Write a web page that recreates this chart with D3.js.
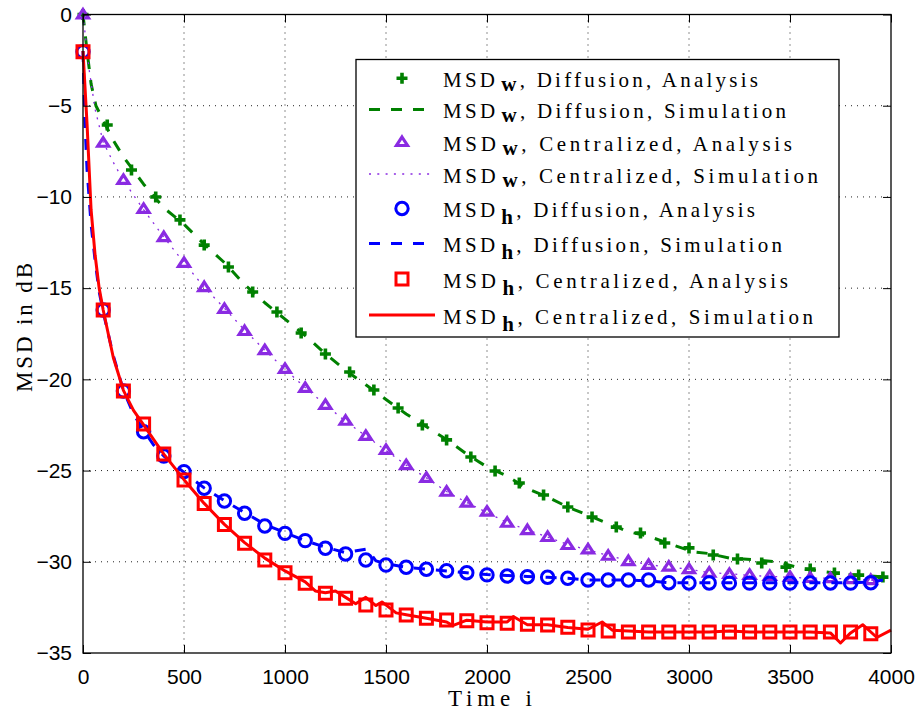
<!DOCTYPE html>
<html>
<head>
<meta charset="utf-8">
<title>MSD curves</title>
<script src="https://d3js.org/d3.v7.min.js"></script>
<style>
  body { margin: 0; background: #fff; }
  svg { display: block; }
</style>
</head>
<body>
<svg width="921" height="715" id="mainsvg"></svg>
<script>
// ---- data (time index, MSD in dB) ----
const xTicks = [0, 500, 1000, 1500, 2000, 2500, 3000, 3500, 4000];
const yTicks = [0, -5, -10, -15, -20, -25, -30, -35];

// MSD_w diffusion, analysis (+ markers every 120)
const wDiffAnaI = [0, 120, 240, 360, 480, 600, 720, 840, 960, 1080, 1200, 1320, 1440, 1560, 1680, 1800, 1920, 2040, 2160, 2280, 2400, 2520, 2640, 2760, 2880, 3000, 3120, 3240, 3360, 3480, 3600, 3720, 3840, 3960];
const wDiffAnaV = [0, -6.06, -8.52, -10.0, -11.26, -12.64, -13.84, -15.21, -16.31, -17.46, -18.61, -19.6, -20.58, -21.57, -22.5, -23.32, -24.26, -25.02, -25.68, -26.34, -27.0, -27.55, -28.1, -28.42, -28.97, -29.24, -29.63, -29.85, -30.07, -30.29, -30.4, -30.62, -30.73, -30.84];

// MSD_w diffusion, simulation (green dashed)
const wDiffSimI = [0, 20, 40, 64, 100, 150, 200, 300, 400, 500, 600, 700, 800, 900, 1000, 1100, 1200, 1300, 1400, 1500, 1600, 1700, 1800, 1900, 2000, 2100, 2200, 2300, 2400, 2500, 2600, 2700, 2800, 2900, 3020, 3100, 3200, 3337, 3435, 3550, 3663, 3762, 3860, 3960];
const wDiffSimV = [0, -2.0, -3.8, -5.0, -5.8, -6.9, -7.8, -9.3, -10.6, -11.5, -12.6, -13.6, -14.8, -15.8, -16.7, -17.6, -18.6, -19.5, -20.3, -21.1, -21.9, -22.6, -23.3, -24.1, -24.8, -25.3, -26.0, -26.45, -27.0, -27.45, -27.9, -28.35, -28.6, -29.0, -29.45, -29.55, -29.8, -29.9, -30.0, -30.35, -30.54, -30.67, -30.75, -30.82];

// MSD_w centralized, analysis (triangles every 100)
const wCentAnaI = d3.range(0, 4000, 100);
const wCentAnaV = [0, -7.03, -9.07, -10.66, -12.2, -13.62, -14.94, -16.14, -17.35, -18.4, -19.43, -20.47, -21.4, -22.27, -23.1, -23.87, -24.7, -25.4, -26.16, -26.76, -27.25, -27.86, -28.26, -28.64, -29.08, -29.32, -29.67, -29.96, -30.17, -30.27, -30.4, -30.6, -30.67, -30.72, -30.78, -30.83, -30.88, -30.9, -30.95, -31.0];

// MSD_w centralized, simulation (purple dotted)
const wCentSimI = [0, 30, 60, 100, 150, 200, 300, 400, 500, 600, 700, 800, 900, 1000, 1100, 1200, 1300, 1400, 1500, 1600, 1700, 1800, 1900, 2000, 2100, 2200, 2300, 2400, 2500, 2600, 2700, 2800, 2900, 3000, 3100, 3200, 3300, 3400, 3500, 3600, 3700, 3800, 3900, 3980];
const wCentSimV = [0, -3.0, -5.2, -7.0, -8.1, -9.1, -10.7, -12.2, -13.6, -14.95, -16.1, -17.3, -18.4, -19.45, -20.45, -21.4, -22.3, -23.1, -23.9, -24.7, -25.4, -26.15, -26.75, -27.3, -27.85, -28.25, -28.65, -29.05, -29.35, -29.65, -29.95, -30.15, -30.3, -30.4, -30.6, -30.65, -30.75, -30.8, -30.85, -30.9, -30.9, -30.95, -31.0, -31.05];

// MSD_h diffusion, analysis (circles every 100)
const hDiffAnaI = d3.range(0, 4000, 100);
const hDiffAnaV = [-2.04, -16.2, -20.64, -22.87, -24.2, -25.06, -25.97, -26.67, -27.34, -28.04, -28.44, -28.84, -29.26, -29.57, -29.9, -30.18, -30.3, -30.41, -30.49, -30.6, -30.72, -30.78, -30.82, -30.85, -30.9, -31.0, -31.0, -31.0, -31.0, -31.15, -31.16, -31.16, -31.17, -31.17, -31.17, -31.17, -31.16, -31.16, -31.17, -31.15];

// MSD_h diffusion, simulation (blue dashed)
const hDiffSimI = [0, 10, 20, 40, 60, 80, 100, 150, 200, 250, 300, 350, 400, 500, 600, 700, 800, 900, 1000, 1100, 1200, 1300, 1406, 1450, 1500, 1600, 1700, 1800, 1900, 2000, 2100, 2200, 2300, 2400, 2500, 2600, 2700, 2800, 2900, 3000, 3100, 3200, 3300, 3400, 3500, 3600, 3700, 3800, 3900, 3960];
const hDiffSimV = [-2.0, -6.0, -8.5, -11.5, -13.5, -15.2, -16.3, -18.7, -20.6, -21.9, -22.8, -23.6, -24.2, -25.1, -25.95, -26.65, -27.3, -27.95, -28.4, -28.85, -29.2, -29.5, -29.3, -29.95, -30.1, -30.3, -30.4, -30.5, -30.6, -30.7, -30.75, -30.8, -30.85, -30.9, -31.0, -31.0, -31.0, -31.05, -31.15, -31.15, -31.15, -31.15, -31.15, -31.15, -31.15, -31.15, -31.15, -31.15, -31.1, -31.0];

// MSD_h centralized, analysis (squares every 100)
const hCentAnaI = d3.range(0, 4000, 100);
const hCentAnaV = [-2.04, -16.2, -20.64, -22.45, -24.09, -25.52, -26.8, -27.95, -28.99, -29.9, -30.6, -31.18, -31.73, -32.0, -32.37, -32.64, -32.92, -33.1, -33.19, -33.23, -33.34, -33.37, -33.43, -33.47, -33.59, -33.74, -33.8, -33.85, -33.85, -33.85, -33.85, -33.85, -33.85, -33.85, -33.85, -33.85, -33.85, -33.85, -33.85, -33.95];

// MSD_h centralized, simulation (red solid)
const hCentSimI = [0, 20, 40, 60, 80, 100, 150, 200, 250, 300, 350, 400, 450, 500, 600, 700, 800, 900, 1000, 1100, 1150, 1200, 1250, 1300, 1350, 1400, 1450, 1480, 1550, 1600, 1700, 1800, 1830, 1900, 2000, 2100, 2130, 2200, 2300, 2400, 2500, 2570, 2620, 2700, 2800, 2900, 3000, 3100, 3200, 3300, 3400, 3500, 3600, 3700, 3750, 3800, 3860, 3930, 4000];
const hCentSimV = [-2.0, -6.0, -10.7, -13.2, -15.0, -16.2, -18.8, -20.6, -21.7, -22.5, -23.3, -24.1, -24.8, -25.5, -26.8, -27.95, -28.95, -29.8, -30.5, -31.1, -31.6, -31.7, -31.6, -31.95, -32.3, -31.95, -32.4, -32.2, -32.8, -32.9, -33.1, -33.3, -33.5, -33.2, -33.3, -33.3, -33.0, -33.45, -33.45, -33.6, -33.7, -33.3, -33.75, -33.8, -33.85, -33.85, -33.85, -33.85, -33.8, -33.85, -33.85, -33.85, -33.85, -33.9, -34.45, -33.9, -33.45, -34.15, -33.75];

const legendLabels = [
  ['w', 'Diffusion, Analysis'],
  ['w', 'Diffusion, Simulation'],
  ['w', 'Centralized, Analysis'],
  ['w', 'Centralized, Simulation'],
  ['h', 'Diffusion, Analysis'],
  ['h', 'Diffusion, Simulation'],
  ['h', 'Centralized, Analysis'],
  ['h', 'Centralized, Simulation']
];

const green = '#008000', purple = '#8a2be2', blue = '#0000ff', red = '#ff0000';

const svg = d3.select('#mainsvg');
const margin = { top: 14.5, right: 30, bottom: 62, left: 83 };
const innerWidth = 921 - margin.left - margin.right;
const innerHeight = 715 - margin.top - margin.bottom;

const g = svg.append('g').attr('transform', `translate(${margin.left},${margin.top})`);

const xScale = d3.scaleLinear().domain([0, 4000]).range([0, innerWidth]);
const yScale = d3.scaleLinear().domain([-35, 0]).range([innerHeight, 0]);

// dotted grid
g.append('g').selectAll('line').data(xTicks.slice(1, -1)).join('line')
  .attr('x1', d => xScale(d)).attr('x2', d => xScale(d))
  .attr('y1', 0).attr('y2', innerHeight)
  .attr('stroke', '#222').attr('stroke-width', 1).attr('stroke-dasharray', '1,5');
g.append('g').selectAll('line').data(yTicks.slice(1, -1)).join('line')
  .attr('y1', d => yScale(d)).attr('y2', d => yScale(d))
  .attr('x1', 0).attr('x2', innerWidth)
  .attr('stroke', '#222').attr('stroke-width', 1).attr('stroke-dasharray', '1,5');

const toPts = (I, V) => I.map((d, k) => [d, V[k]]);
const line = d3.line().x(d => xScale(d[0])).y(d => yScale(d[1]));

const plot = g.append('g');

function drawLine(pts, color, width, dash) {
  plot.append('path').datum(pts)
    .attr('d', line)
    .attr('fill', 'none')
    .attr('stroke', color)
    .attr('stroke-width', width)
    .attr('stroke-linejoin', 'round')
    .attr('stroke-dasharray', dash || null);
}

// marker shapes
const markerPath = {
  plus: 'M-5.5,0H5.5M0,-5.5V5.5',
  tri: 'M0,-5L5.5,3.5L-5.5,3.5Z',
  sq: 'M-6,-6H6V6H-6Z'
};
const markerWidth = { plus: 3.6, tri: 3.2, sq: 3, circ: 3 };
function drawMarkers(pts, kind, color) {
  const sel = plot.append('g').selectAll('.m').data(pts).join(kind === 'circ' ? 'circle' : 'path')
    .attr('fill', 'none').attr('stroke', color).attr('stroke-width', markerWidth[kind])
    .attr('stroke-linejoin', 'miter');
  if (kind === 'circ') {
    sel.attr('cx', d => xScale(d[0])).attr('cy', d => yScale(d[1])).attr('r', 6.2);
  } else {
    sel.attr('d', markerPath[kind])
      .attr('transform', d => `translate(${xScale(d[0])},${yScale(d[1])})`);
  }
}

drawLine(toPts(wDiffSimI, wDiffSimV), green, 3, '11,11');
drawMarkers(toPts(wDiffAnaI, wDiffAnaV), 'plus', green);
drawLine(toPts(wCentSimI, wCentSimV), purple, 1.3, '2,6');
drawMarkers(toPts(wCentAnaI, wCentAnaV), 'tri', purple);
drawLine(toPts(hDiffSimI, hDiffSimV), blue, 3, '11,11');
drawMarkers(toPts(hDiffAnaI, hDiffAnaV), 'circ', blue);
drawMarkers(toPts(hCentAnaI, hCentAnaV), 'sq', red);
drawLine(toPts(hCentSimI, hCentSimV), red, 3);

// axes: ticks inward on all four sides
const tickFont = 'Liberation Sans, Arial, sans-serif';
const xAxis = d3.axisBottom(xScale).tickValues(xTicks).tickSize(-8).tickPadding(16).tickFormat(d3.format('d'));
const yAxis = d3.axisLeft(yScale).tickValues(yTicks).tickSize(-8).tickPadding(11)
  .tickFormat(d => d < 0 ? '\u2212' + Math.abs(d) : d);

const xg = g.append('g').attr('transform', `translate(0,${innerHeight})`).call(xAxis);
const yg = g.append('g').call(yAxis);
const tg = g.append('g').call(d3.axisTop(xScale).tickValues(xTicks).tickSize(-8));
const rg = g.append('g').attr('transform', `translate(${innerWidth},0)`).call(d3.axisRight(yScale).tickValues(yTicks).tickSize(-8));
tg.selectAll('text').remove();
rg.selectAll('text').remove();
g.selectAll('.domain').remove();
g.selectAll('.tick line').attr('stroke', '#000').attr('stroke-width', 1);
[xg, yg].forEach(a => a.selectAll('text')
  .attr('font-family', tickFont).attr('font-size', 21).attr('fill', '#000'));

g.append('rect').attr('width', innerWidth).attr('height', innerHeight)
  .attr('fill', 'none').attr('stroke', '#000').attr('stroke-width', 1.3);

// axis titles
const serif = 'Liberation Serif, Times New Roman, serif';
svg.append('text').text('Time i')
  .attr('x', 448).attr('y', 706)
  .attr('font-family', serif).attr('font-size', 23)
  .attr('textLength', 84).attr('lengthAdjust', 'spacing');
svg.append('text').text('MSD in dB')
  .attr('transform', 'translate(32,392) rotate(-90)')
  .attr('font-family', serif).attr('font-size', 23)
  .attr('textLength', 129).attr('lengthAdjust', 'spacing');

// legend
const legend = svg.append('g');
legend.append('rect').attr('x', 356).attr('y', 59.5).attr('width', 483).attr('height', 277.5)
  .attr('fill', '#fff').attr('stroke', '#000').attr('stroke-width', 1.3);

const rowY = [78.3, 109.5, 142, 174, 208.5, 243.5, 279, 315];
const textW = [315, 343, 349, 375, 312, 339, 345, 370];
const rowStyle = [
  { c: green, m: 'plus' }, { c: green, l: '11,11', w: 3 },
  { c: purple, m: 'tri' }, { c: purple, l: '2,6.3', w: 1.3 },
  { c: blue, m: 'circ' }, { c: blue, l: '11,11', w: 3 },
  { c: red, m: 'sq' }, { c: red, l: null, w: 3 }
];
rowStyle.forEach((s, k) => {
  const y = rowY[k];
  if (s.m) {
    if (s.m === 'circ') {
      legend.append('circle').attr('cx', 402).attr('cy', y).attr('r', 6.2)
        .attr('fill', 'none').attr('stroke', s.c).attr('stroke-width', 3);
    } else {
      legend.append('path').attr('d', markerPath[s.m])
        .attr('transform', `translate(402,${y})`)
        .attr('fill', 'none').attr('stroke', s.c).attr('stroke-width', markerWidth[s.m]);
    }
  } else {
    legend.append('line').attr('x1', 369).attr('x2', 435).attr('y1', y).attr('y2', y)
      .attr('stroke', s.c).attr('stroke-width', s.w).attr('stroke-dasharray', s.l);
  }
  const sub = legendLabels[k][0];
  const t = legend.append('text')
    .attr('x', 443).attr('y', y + 8.5)
    .attr('font-family', serif).attr('font-size', 21).attr('fill', '#000')
    .attr('textLength', textW[k]).attr('lengthAdjust', 'spacing');
  t.append('tspan').text('MSD');
  const dy = sub === 'w' ? 4 : 7;
  t.append('tspan').text(sub).attr('font-weight', 'bold').attr('dy', dy).attr('dx', 3);
  t.append('tspan').text(', ' + legendLabels[k][1]).attr('dy', -dy);
});
</script>
</body>
</html>
